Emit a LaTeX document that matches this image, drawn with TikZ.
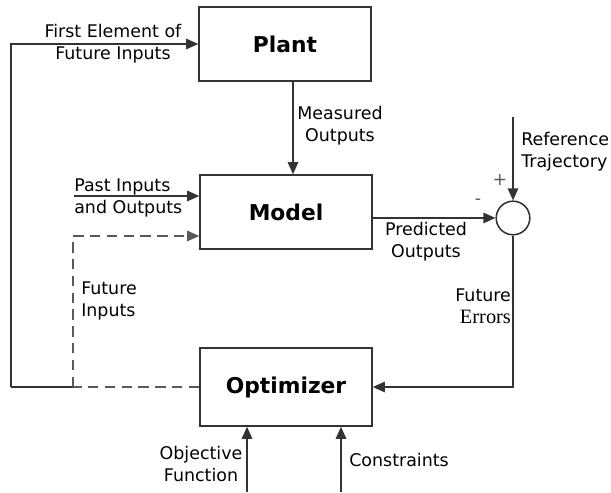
\documentclass[tikz,border=0pt]{standalone}
\usepackage{fontspec}
\setmainfont{DejaVu Sans}
\newfontfamily\errfont{Liberation Serif}
\usepackage{tikz}
\usetikzlibrary{arrows.meta,positioning}
\colorlet{lineblk}{black!80}
\colorlet{dashgray}{black!65}

\begin{document}
\begin{tikzpicture}[
        block/.style={draw=lineblk, line width=1.1pt, minimum width=4.3cm, minimum height=1.85cm,
            font=\fontsize{15.5}{18}\selectfont\bfseries},
        wire/.style={lineblk, line width=1.1pt},
        arr/.style={wire, -{Triangle[length=0.3cm,width=0.26cm]}},
        futdash/.style={dashgray, line width=1.1pt, dash pattern=on 0.26cm off 0.16cm},
        lbl/.style={font=\fontsize{12.4}{15.6}\selectfont, inner sep=0pt}
    ]
        \useasboundingbox (0,0) rectangle (15.275,12.3);

        \node[block] (plant) at (7.125,11.2) {Plant};
        \node[block] (model) at (7.15,7.0) {Model};
        \node[block, minimum height=1.95cm] (optim) at (7.15,2.625) {Optimizer};
        \node[draw=lineblk, line width=1.1pt, circle, minimum size=0.84cm, inner sep=0pt] (sum) at (12.825,6.85) {};

        \coordinate (split) at (1.825,2.625);
        \coordinate (corner) at (0.275,2.625);
        \coordinate (past) at (1.85,7.4);
        \coordinate (ref) at (12.825,9.375);
        \coordinate (obj) at (6.175,0);
        \coordinate (con) at (8.525,0);

        % feedback to the plant and the model
        \draw[wire] (split) -- (corner);
        \draw[arr] (corner) |- (plant.west);
        \draw[futdash] (optim.west) -- (split);
        \draw[futdash, -{Triangle[length=0.3cm,width=0.26cm]}] (split) |- ([yshift=-0.6cm]model.west);
        \draw[arr] (past) -- (past -| model.west);

        \draw[arr] ([xshift=0.2cm]plant.south) -- ([xshift=0.175cm]model.north);
        \draw[arr] (model.east |- sum) -- (sum.west);
        \draw[arr] (ref) -- (sum.north);
        \draw[arr] (sum.south) |- (optim.east);
        \draw[arr] (obj) -- (obj |- optim.south);
        \draw[arr] (con) -- (con |- optim.south);

        \node[lbl, align=center] at (2.825,11.21) {First Element of\\Future Inputs};
        \node[lbl, align=center] at (8.5,9.15) {Measured\\Outputs};
        \node[lbl, align=left, anchor=west] at (13.025,8.5) {Reference\\Trajectory};
        \node[lbl, dashgray] at (12.5,7.8) {+};
        \node[lbl, dashgray] at (11.95,7.25) {-};
        \node[lbl, align=center] at (10.65,6.26) {Predicted\\Outputs};
        \node[lbl, align=left, anchor=west] at (1.85,7.34) {Past Inputs\\and Outputs};
        \node[lbl, align=left, anchor=west] at (2.025,4.775) {Future\\Inputs};
        \node[lbl, align=right, anchor=east] at (12.78,4.65) {Future\\{\errfont\fontsize{14.5}{15.6}\selectfont Errors}};
        \node[lbl, align=center] at (5.025,0.7) {Objective\\Function};
        \node[lbl, anchor=west] at (8.725,0.8) {Constraints};
    \end{tikzpicture}
\end{document}
